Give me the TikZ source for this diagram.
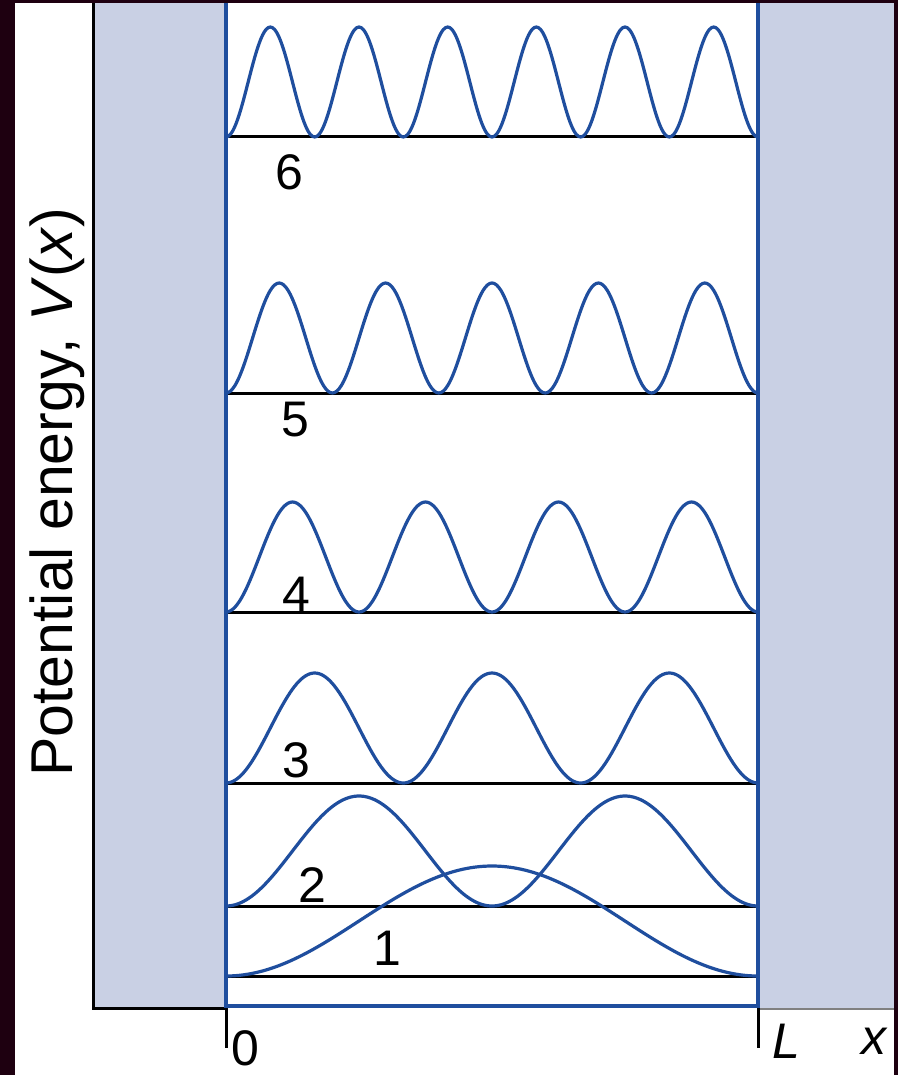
\documentclass[tikz,border=0pt]{standalone}
\usepackage{fontspec}
\setmainfont{Liberation Sans}
\definecolor{bgdark}{RGB}{30,0,16}
\definecolor{wallfill}{RGB}{201,208,228}
\definecolor{waveblue}{RGB}{31,78,158}
\begin{document}
\begin{tikzpicture}[x=1pt,y=-1pt,
  wave/.style={draw=waveblue,line width=3.2pt},
  level/.style={draw=black,line width=3pt},
  wallline/.style={draw=waveblue,line width=3.6pt},
  lbl/.style={font=\fontsize{50}{60}\selectfont,inner sep=0pt}]
\useasboundingbox (0,0) rectangle (898,1075);
% background
\fill[bgdark] (0,0) rectangle (898,1075);
\fill[white] (15,3) rectangle (894,1075);
% walls
\fill[wallfill] (93,3) rectangle (226,1008);
\fill[wallfill] (758,3) rectangle (894,1008);
\draw[black,line width=3pt] (93,3) -- (93,1008) -- (226,1008);
\draw[gray,line width=2pt] (758,1008.5) -- (894,1008.5);
% energy levels
\foreach \yy in {976,906,783,612,393,137} {
  \draw[level] (226,\yy) -- (758,\yy);
}
% wavefunctions
\foreach \n/\yy in {1/976,2/906,3/783,4/612,5/393,6/137} {
  \draw[wave,line join=round] plot[domain=226:758,samples=241,smooth] (\x,{\yy-110*sin(\n*(\x-226)*0.338346)^2});
}
% well walls and bottom
\draw[wallline] (226,3) -- (226,1006) -- (758,1006) -- (758,3);
% ticks
\draw[black,line width=3pt] (226,1008) -- (226,1048);
\draw[black,line width=3pt] (758,1008) -- (758,1048);
% labels
\node[lbl] (n6) at (289,172) {6};
\node[lbl] (n5) at (295,420) {5};
\node[lbl] (n4) at (296,594) {4};
\node[lbl] (n3) at (296,760) {3};
\node[lbl] (n2) at (312,885) {2};
\node[lbl] (n1) at (387,948) {1};
\node[lbl] (zero) at (245,1048) {0};
\node[lbl] (Lab) at (786,1041) {\itshape L};
\node[lbl] (xlab) at (874,1041) {\itshape x};
\node[font=\fontsize{59}{70}\selectfont,inner sep=0pt,rotate=90,anchor=base] (ylab) at (72,492) {Potential energy, \textit{V}(\textit{x})};
\end{tikzpicture}
\end{document}
